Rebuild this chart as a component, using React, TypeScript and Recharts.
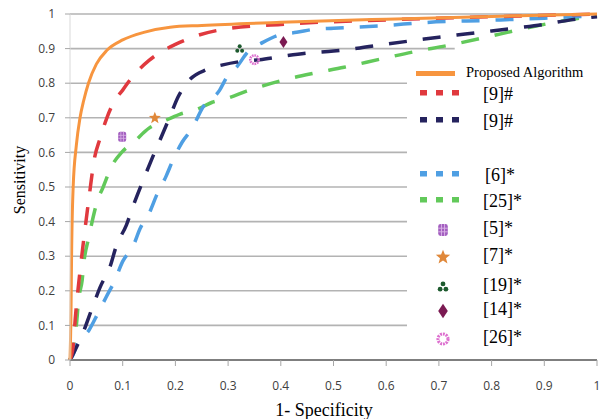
import { ComposedChart, Line, Scatter, XAxis, YAxis, ReferenceLine } from 'recharts';

const axisTicks = [0, 0.1, 0.2, 0.3, 0.4, 0.5, 0.6, 0.7, 0.8, 0.9, 1];

// horizontal grid rows and where each one stops (the legend box hides the rest)
const gridRows = [0.1, 0.2, 0.3, 0.4, 0.5, 0.6, 0.7, 0.8, 0.9, 1];
const gridEnds = [1, 1, 1, 1, 1, 1, 1, 1, 0.73, 1];

// Proposed algorithm
const proposedX = [0, 0.002, 0.003, 0.006, 0.012, 0.019, 0.026, 0.035, 0.05, 0.07, 0.1, 0.14, 0.19, 0.25, 0.4, 0.6, 0.8, 1];
const proposedY = [0, 0.15, 0.3, 0.5, 0.62, 0.7, 0.75, 0.8, 0.855, 0.895, 0.925, 0.947, 0.962, 0.967, 0.976, 0.985, 0.993, 1];

// [9]# red
const red9X = [0, 0.006, 0.01, 0.015, 0.02, 0.027, 0.037, 0.046, 0.057, 0.07, 0.085, 0.1, 0.114, 0.15, 0.17, 0.2, 0.24, 0.3, 0.4, 0.6, 0.8, 1];
const red9Y = [0, 0.04, 0.12, 0.2, 0.27, 0.36, 0.48, 0.58, 0.64, 0.7, 0.75, 0.78, 0.81, 0.866, 0.888, 0.912, 0.937, 0.958, 0.97, 0.983, 0.992, 1];

// [9]# navy
const navy9X = [0, 0.01, 0.025, 0.042, 0.057, 0.076, 0.088, 0.107, 0.121, 0.139, 0.155, 0.172, 0.19, 0.205, 0.224, 0.26, 0.29, 0.325, 0.36, 0.4, 0.45, 0.5, 0.55, 0.6, 0.66, 0.7, 0.75, 0.8, 0.85, 0.9, 0.95, 1];
const navy9Y = [0, 0.03, 0.08, 0.15, 0.21, 0.27, 0.33, 0.39, 0.45, 0.52, 0.58, 0.64, 0.705, 0.76, 0.805, 0.84, 0.853, 0.863, 0.868, 0.877, 0.887, 0.893, 0.902, 0.913, 0.925, 0.933, 0.942, 0.951, 0.96, 0.97, 0.983, 0.992];

// [6]* light blue
const blue6X = [0, 0.006, 0.013, 0.036, 0.053, 0.068, 0.085, 0.1, 0.12, 0.133, 0.152, 0.164, 0.182, 0.196, 0.213, 0.232, 0.252, 0.284, 0.297, 0.318, 0.337, 0.366, 0.398, 0.43, 0.464, 0.5, 0.6, 0.67, 0.8, 0.9, 1];
const blue6Y = [0, 0.015, 0.046, 0.086, 0.135, 0.18, 0.23, 0.285, 0.33, 0.38, 0.43, 0.475, 0.53, 0.58, 0.63, 0.67, 0.73, 0.78, 0.816, 0.85, 0.89, 0.918, 0.94, 0.947, 0.956, 0.959, 0.967, 0.975, 0.982, 0.988, 0.995];

// [25]* green
const green25X = [0, 0.008, 0.013, 0.016, 0.023, 0.027, 0.035, 0.042, 0.052, 0.063, 0.079, 0.098, 0.121, 0.15, 0.178, 0.208, 0.24, 0.27, 0.3, 0.335, 0.4, 0.46, 0.52, 0.59, 0.65, 0.72, 0.79, 0.85, 0.92, 1];
const green25Y = [0, 0.05, 0.115, 0.17, 0.23, 0.29, 0.35, 0.4, 0.46, 0.5, 0.56, 0.6, 0.63, 0.67, 0.69, 0.71, 0.724, 0.745, 0.757, 0.777, 0.807, 0.828, 0.846, 0.87, 0.89, 0.91, 0.933, 0.954, 0.976, 0.995];

// single operating points
const ref5 = [{ x: 0.099, y: 0.645 }];
const ref7 = [{ x: 0.161, y: 0.7 }];
const ref19 = [{ x: 0.322, y: 0.899 }];
const ref14 = [{ x: 0.405, y: 0.919 }];
const ref26 = [{ x: 0.35, y: 0.868 }];

const toPoints = (xs: number[], ys: number[]) => xs.map((x, i) => ({ x, y: ys[i] }));

const COLORS = {
  proposed: '#f7953f',
  red: '#e0393e',
  navy: '#25235e',
  blue: '#4f9fe3',
  green: '#62c95a',
  hash: '#a35fc0',
  star: '#e0883a',
  dots: '#1d5a2e',
  diamond: '#7b1a52',
  ring: '#dd6fcf',
};

const serif = '"Liberation Serif", "DejaVu Serif", serif';
const sans = '"Open Sans", "Noto Sans", sans-serif';

// marker glyphs, drawn around (cx, cy)
const HashMark = ({ cx, cy, s = 1 }: any) => (
  <g transform={`translate(${cx},${cy}) scale(${s})`}>
    <rect x={-4} y={-5} width={8} height={10} rx={2} fill={COLORS.hash} />
    <line x1={-4} x2={4} y1={-1.5} y2={-1.5} stroke="#d9b3e6" strokeWidth={0.8} />
    <line x1={-4} x2={4} y1={1.5} y2={1.5} stroke="#d9b3e6" strokeWidth={0.8} />
    <line x1={-1.3} x2={-1.3} y1={-5} y2={5} stroke="#d9b3e6" strokeWidth={0.8} />
    <line x1={1.3} x2={1.3} y1={-5} y2={5} stroke="#d9b3e6" strokeWidth={0.8} />
  </g>
);

const StarMark = ({ cx, cy, s = 1 }: any) => (
  <g transform={`translate(${cx},${cy}) scale(${s})`}>
    <polygon
      points="0,-6 1.6,-2 6,-1.9 2.5,1 3.7,5.5 0,3 -3.7,5.5 -2.5,1 -6,-1.9 -1.6,-2"
      fill={COLORS.star}
    />
  </g>
);

const DotsMark = ({ cx, cy, s = 1 }: any) => (
  <g transform={`translate(${cx},${cy}) scale(${s})`} fill={COLORS.dots}>
    <circle cx={0} cy={-2.6} r={2} />
    <circle cx={-2.4} cy={1.8} r={2} />
    <circle cx={2.4} cy={1.8} r={2} />
  </g>
);

const DiamondMark = ({ cx, cy, s = 1 }: any) => (
  <g transform={`translate(${cx},${cy}) scale(${s})`}>
    <polygon points="0,-6 4,0 0,6 -4,0" fill={COLORS.diamond} />
  </g>
);

const RingMark = ({ cx, cy, s = 1 }: any) => (
  <g transform={`translate(${cx},${cy}) scale(${s})`}>
    <circle r={4.2} fill="none" stroke={COLORS.ring} strokeWidth={2.6} strokeDasharray="1.6 0.8" />
  </g>
);

const DashSample = ({ color }: { color: string }) => (
  <svg width={44} height={10} style={{ display: 'block' }}>
    <rect x={2} y={2} width={7} height={5.5} fill={color} />
    <rect x={18} y={2} width={7} height={5.5} fill={color} />
    <rect x={34} y={2} width={7} height={5.5} fill={color} />
  </svg>
);

const MarkSample = ({ Mark }: { Mark: any }) => (
  <svg width={16} height={16} style={{ display: 'block' }}>
    <Mark cx={8} cy={8} s={1.2} />
  </svg>
);

const legendRows = [
  { top: 85, sample: <DashSample color={COLORS.red} />, sx: 418, label: '[9]#', lx: 483 },
  { top: 112, sample: <DashSample color={COLORS.navy} />, sx: 418, label: '[9]#', lx: 483 },
  { top: 166, sample: <DashSample color={COLORS.blue} />, sx: 418, label: '[6]*', lx: 485 },
  { top: 192, sample: <DashSample color={COLORS.green} />, sx: 418, label: '[25]*', lx: 483 },
  { top: 219, sample: <MarkSample Mark={HashMark} />, sx: 435, label: '[5]*', lx: 483 },
  { top: 246, sample: <MarkSample Mark={StarMark} />, sx: 435, label: '[7]*', lx: 483 },
  { top: 276, sample: <MarkSample Mark={DotsMark} />, sx: 435, label: '[19]*', lx: 483 },
  { top: 300, sample: <MarkSample Mark={DiamondMark} />, sx: 435, label: '[14]*', lx: 483 },
  { top: 328, sample: <MarkSample Mark={RingMark} />, sx: 435, label: '[26]*', lx: 483 },
];

const fmt = (v: number) => String(v);

export default function App() {
  return (
    <div style={{ position: 'relative', width: 600, height: 419, background: '#fff', overflow: 'hidden' }}>
      <style>{'body{margin:0}'}</style>
      <ComposedChart width={600} height={419} margin={{ top: 14, right: 3, bottom: 29, left: 20 }}>
        <XAxis
          type="number"
          dataKey="x"
          domain={[0, 1]}
          ticks={axisTicks}
          tickFormatter={fmt}
          height={30}
          tickSize={6}
          tickMargin={15}
          axisLine={{ stroke: '#7f7f7f', strokeWidth: 2 }}
          tickLine={{ stroke: '#a6a6a6' }}
          tick={{ fontSize: 12, fill: '#404040', fontFamily: sans }}
        />
        <YAxis
          type="number"
          dataKey="y"
          domain={[0, 1]}
          ticks={axisTicks}
          tickFormatter={fmt}
          width={50}
          tickSize={5}
          tickMargin={10}
          axisLine={{ stroke: '#d9d9d9' }}
          tickLine={{ stroke: '#a6a6a6' }}
          tick={{ fontSize: 12, fill: '#404040', fontFamily: sans }}
        />
        {gridRows.map((r, i) => (
          <ReferenceLine
            key={r}
            segment={[{ x: 0, y: r }, { x: gridEnds[i], y: r }]}
            stroke="#b3b3b3"
            strokeWidth={1.6}
            ifOverflow="visible"
          />
        ))}
        <Line data={toPoints(green25X, green25Y)} dataKey="y" type="monotone" stroke={COLORS.green} strokeWidth={3.5} strokeDasharray="18 16" dot={false} isAnimationActive={false} />
        <Line data={toPoints(blue6X, blue6Y)} dataKey="y" type="monotone" stroke={COLORS.blue} strokeWidth={3.5} strokeDasharray="18 16" dot={false} isAnimationActive={false} />
        <Line data={toPoints(navy9X, navy9Y)} dataKey="y" type="monotone" stroke={COLORS.navy} strokeWidth={3.5} strokeDasharray="18 16" dot={false} isAnimationActive={false} />
        <Line data={toPoints(red9X, red9Y)} dataKey="y" type="monotone" stroke={COLORS.red} strokeWidth={3.5} strokeDasharray="18 16" dot={false} isAnimationActive={false} />
        <Line data={toPoints(proposedX, proposedY)} dataKey="y" type="monotone" stroke={COLORS.proposed} strokeWidth={3} dot={false} isAnimationActive={false} />
        <Scatter data={ref5} dataKey="y" shape={<HashMark />} isAnimationActive={false} />
        <Scatter data={ref7} dataKey="y" shape={<StarMark />} isAnimationActive={false} />
        <Scatter data={ref19} dataKey="y" shape={<DotsMark />} isAnimationActive={false} />
        <Scatter data={ref14} dataKey="y" shape={<DiamondMark />} isAnimationActive={false} />
        <Scatter data={ref26} dataKey="y" shape={<RingMark />} isAnimationActive={false} />
      </ComposedChart>

      {/* axis titles */}
      <div
        style={{
          position: 'absolute', left: 20, top: 180, transform: 'translate(-50%, -50%) rotate(-90deg)',
          fontFamily: serif, fontSize: 16, color: '#000', whiteSpace: 'nowrap',
        }}
      >
        Sensitivity
      </div>
      <div
        style={{
          position: 'absolute', left: 324, top: 410, transform: 'translate(-50%, -50%)',
          fontFamily: serif, fontSize: 18, color: '#000', whiteSpace: 'nowrap',
        }}
      >
        1- Specificity
      </div>

      {/* legend box */}
      <div style={{ position: 'absolute', left: 407, top: 58, width: 193, height: 300, background: '#fff' }} />
      <div style={{ position: 'absolute', left: 416, top: 71, width: 39, height: 5, background: COLORS.proposed }} />
      <div style={{ position: 'absolute', left: 466, top: 64, fontFamily: serif, fontSize: 14.5, whiteSpace: 'nowrap' }}>
        Proposed Algorithm
      </div>
      {legendRows.map((row, i) => (
        <div key={i}>
          <div style={{ position: 'absolute', left: row.sx, top: row.top + 3 }}>{row.sample}</div>
          <div style={{ position: 'absolute', left: row.lx, top: row.top - 1, fontFamily: serif, fontSize: 18, lineHeight: '20px', whiteSpace: 'nowrap' }}>
            {row.label}
          </div>
        </div>
      ))}
    </div>
  );
}
